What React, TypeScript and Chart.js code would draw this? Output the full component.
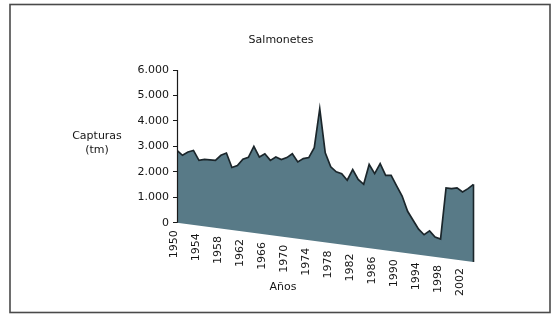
import React, { useEffect, useRef } from 'react';
import { Chart, registerables } from 'chart.js';

Chart.register(...registerables);

const years: number[] = Array.from({ length: 55 }, (_, i) => 1950 + i);
const capturas: number[] = [
  2840, 2650, 2780, 2840, 2450, 2490, 2470, 2450, 2650, 2740,
  2170, 2250, 2500, 2570, 3000, 2580, 2710, 2450, 2580, 2480,
  2560, 2710, 2390, 2520, 2560, 2950, 4480, 2750, 2200, 2000,
  1930, 1670, 2090, 1700, 1510, 2290, 1930, 2320, 1860, 1860,
  1450, 1050, 450, 100, -250, -470, -320, -560, -640, 1370,
  1340, 1370, 1210, 1340, 1510,
];
// slanted 3D floor of the original chart
const floorYears: number[] = [1950, 2004];
const floorValues: number[] = [0, -1540];
const xTickLabels: number[] = [1950, 1954, 1958, 1962, 1966, 1970, 1974, 1978, 1982, 1986, 1990, 1994, 1998, 2002];
const yTicks: number[] = [0, 1000, 2000, 3000, 4000, 5000, 6000];
const chartTitle = 'Salmonetes';
const yTitle: string[] = ['Capturas', '(tm)'];
const xTitle = 'Años';

const FONT = '"DejaVu Sans", Verdana, sans-serif';
const TEXT = '#151515';

function floorAt(year: number): number {
  const t = (year - floorYears[0]) / (floorYears[1] - floorYears[0]);
  return floorValues[0] + t * (floorValues[1] - floorValues[0]);
}

function fmt(v: number): string {
  if (v === 0) return '0';
  const s = String(Math.round(v));
  return s.replace(/\B(?=(\d{3})+(?!\d))/g, '.');
}

export default function App() {
  const ref = useRef<HTMLCanvasElement>(null);

  useEffect(() => {
    document.body.style.margin = '0';
    const canvas = ref.current;
    if (!canvas) return;

    const deco = {
      id: 'deco',
      afterDatasetsDraw(chart: any) {
        const { ctx, scales } = chart;
        const xs = scales.x;
        const ys = scales.y;
        ctx.save();
        // y axis line from 0 to 6000
        ctx.strokeStyle = '#1a1a1a';
        ctx.lineWidth = 1.2;
        const ax = Math.round(chart.chartArea.left) + 0.5;
        ctx.beginPath();
        ctx.moveTo(ax, ys.getPixelForValue(yTicks[yTicks.length - 1]));
        ctx.lineTo(ax, ys.getPixelForValue(0));
        ctx.stroke();
        // right edge of the area
        const lastYear = years[years.length - 1];
        const rx = xs.getPixelForValue(lastYear);
        ctx.strokeStyle = '#1b262b';
        ctx.lineWidth = 1.6;
        ctx.beginPath();
        ctx.moveTo(rx, ys.getPixelForValue(capturas[capturas.length - 1]));
        ctx.lineTo(rx, ys.getPixelForValue(floorAt(lastYear)));
        ctx.stroke();
        // x tick labels along the slanted floor
        ctx.fillStyle = TEXT;
        ctx.font = `11px ${FONT}`;
        ctx.textAlign = 'right';
        ctx.textBaseline = 'middle';
        for (const yr of xTickLabels) {
          const px = xs.getPixelForValue(yr) - 2.5;
          const py = ys.getPixelForValue(floorAt(yr)) + 7.5;
          ctx.save();
          ctx.translate(px, py);
          ctx.rotate(-Math.PI / 2);
          ctx.fillText(String(yr), 0, 0);
          ctx.restore();
        }
        // titles
        ctx.textAlign = 'center';
        ctx.textBaseline = 'middle';
        ctx.fillText(chartTitle, 281, 40);
        ctx.fillText(yTitle[0], 97, 136);
        ctx.fillText(yTitle[1], 97, 150);
        ctx.fillText(xTitle, 283, 287);
        // outer border
        ctx.strokeStyle = '#4a4a4a';
        ctx.lineWidth = 1.6;
        ctx.strokeRect(10, 4.5, 540, 308);
        ctx.restore();
      },
    };

    const chart = new Chart(canvas, {
      type: 'line',
      data: {
        datasets: [
          {
            data: years.map((y, i) => ({ x: y, y: capturas[i] })),
            borderColor: '#1b262b',
            borderWidth: 1.7,
            backgroundColor: '#587a87',
            fill: 1,
            pointRadius: 0,
            tension: 0,
          },
          {
            data: floorYears.map((y, i) => ({ x: y, y: floorValues[i] })),
            borderColor: 'rgba(0,0,0,0)',
            borderWidth: 0,
            pointRadius: 0,
            fill: false,
          },
        ],
      },
      options: {
        animation: false,
        responsive: false,
        events: [],
        layout: { padding: { top: 70, bottom: 52.5, left: 0, right: 81.5 } },
        plugins: { legend: { display: false }, tooltip: { enabled: false } },
        scales: {
          x: { type: 'linear', min: 1950, max: 2004, display: false },
          y: {
            type: 'linear',
            min: -1600,
            max: 6000,
            afterBuildTicks: (s: any) => {
              s.ticks = yTicks.map((v) => ({ value: v }));
            },
            afterFit: (s: any) => {
              s.width = 177;
            },
            border: { display: false },
            grid: { drawOnChartArea: false, tickLength: 4, tickColor: '#1a1a1a', color: '#1a1a1a' },
            ticks: {
              padding: 4,
              color: TEXT,
              font: { family: FONT, size: 11 },
              callback: (v: any) => fmt(Number(v)),
            },
          },
        },
      },
      plugins: [deco],
    } as any);

    return () => chart.destroy();
  }, []);

  return <canvas ref={ref} width={555} height={316} style={{ display: 'block' }} />;
}
